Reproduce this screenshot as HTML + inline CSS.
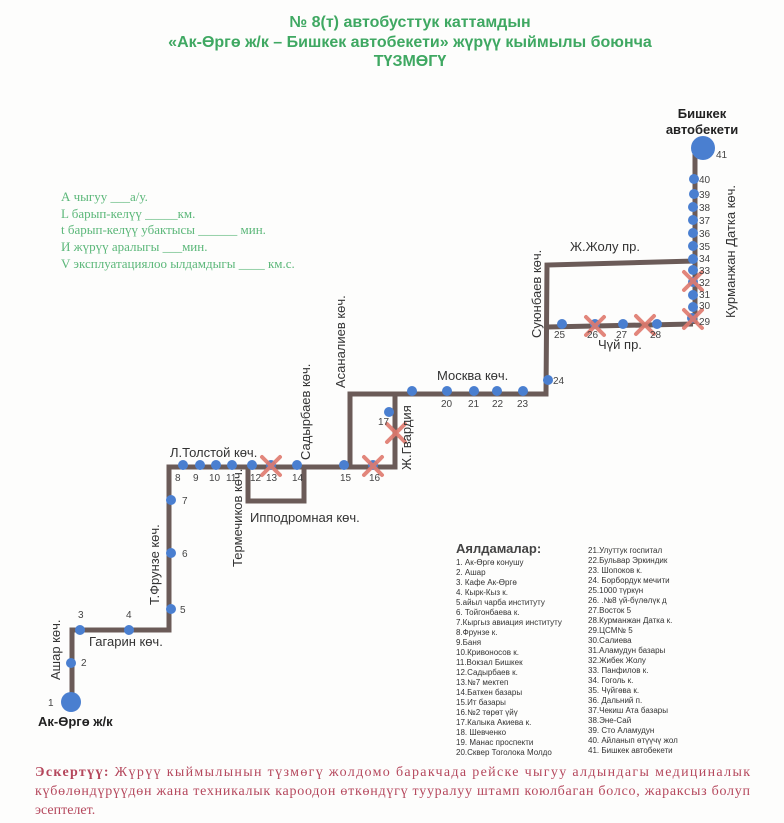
<!DOCTYPE html>
<html><head><meta charset="utf-8"><style>
html,body{margin:0;padding:0;background:#fdfdfc;}
svg{display:block;font-family:"Liberation Sans",sans-serif;}
.t{font-family:"Liberation Sans",sans-serif;font-weight:bold;fill:#3fa862;font-size:16px;}
.g{font-family:"Liberation Serif",serif;fill:#5bb779;font-size:13px;}
.n{font-size:10px;fill:#444;}
.s{font-size:13px;fill:#333;}
.l{font-size:8px;fill:#333;}
.r{font-family:"Liberation Serif",serif;fill:#b5485d;font-size:14px;}
</style></head><body>
<svg width="784" height="823" viewBox="0 0 784 823" xmlns="http://www.w3.org/2000/svg">
<text class="t" x="410" y="27" text-anchor="middle">№ 8(т) автобусттук каттамдын</text>
<text class="t" x="410" y="47" text-anchor="middle">«Ак-Өргө ж/к – Бишкек автобекети» жүрүү кыймылы боюнча</text>
<text class="t" x="410" y="66" text-anchor="middle">ТҮЗМӨГҮ</text>

<g class="g">
<text x="61" y="201">А чыгуу ___а/у.</text>
<text x="61" y="218">L барып-келүү  _____км.</text>
<text x="61" y="234">t барып-келүү убактысы  ______ мин.</text>
<text x="61" y="251">И жүрүү аралыгы ___мин.</text>
<text x="61" y="268">V эксплуатациялоо ылдамдыгы ____ км.с.</text>
</g>

<g fill="none" stroke="#6b5b58" stroke-width="5" stroke-linejoin="miter">
<polyline points="72,702 72,630 169,630 169,467 350,467"/>
<polyline points="248,467 248,501 304,501 304,467"/>
<polyline points="350,467 350,394 546,394 547,265 695,261"/>
<polyline points="350,467 395,467 395,394"/>
<polyline points="547,327 693,324"/>
<polyline points="695,150 695,324"/>
</g>

<g fill="#4a7fd0">
<circle cx="71" cy="702" r="10"/>
<circle cx="71" cy="663" r="5"/>
<circle cx="80" cy="630" r="5"/>
<circle cx="129" cy="630" r="5"/>
<circle cx="171" cy="609" r="5"/>
<circle cx="171" cy="553" r="5"/>
<circle cx="171" cy="500" r="5"/>
<circle cx="183" cy="465" r="5"/>
<circle cx="200" cy="465" r="5"/>
<circle cx="216" cy="465" r="5"/>
<circle cx="232" cy="465" r="5"/>
<circle cx="252" cy="465" r="5"/>
<circle cx="271" cy="465" r="5"/>
<circle cx="297" cy="465" r="5"/>
<circle cx="344" cy="465" r="5"/>
<circle cx="373" cy="465" r="5"/>
<circle cx="389" cy="412" r="5"/>
<circle cx="412" cy="391" r="5"/>
<circle cx="447" cy="391" r="5"/>
<circle cx="474" cy="391" r="5"/>
<circle cx="497" cy="391" r="5"/>
<circle cx="523" cy="391" r="5"/>
<circle cx="548" cy="380" r="5"/>
<circle cx="562" cy="324" r="5"/>
<circle cx="595" cy="324" r="5"/>
<circle cx="623" cy="324" r="5"/>
<circle cx="657" cy="324" r="5"/>
<circle cx="692" cy="318" r="5"/>
<circle cx="693" cy="307" r="5"/>
<circle cx="693" cy="295" r="5"/>
<circle cx="693" cy="282" r="5"/>
<circle cx="693" cy="270" r="5"/>
<circle cx="693" cy="259" r="5"/>
<circle cx="693" cy="246" r="5"/>
<circle cx="693" cy="233" r="5"/>
<circle cx="693" cy="220" r="5"/>
<circle cx="693" cy="207" r="5"/>
<circle cx="694" cy="194" r="5"/>
<circle cx="694" cy="179" r="5"/>
<circle cx="703" cy="148" r="12"/>
</g>

<g stroke="#e07a6e" stroke-width="4" stroke-linecap="round" opacity="0.9">
<path d="M262,457 L280,475 M280,457 L262,475"/>
<path d="M364,457 L382,475 M382,457 L364,475"/>
<path d="M387,424 L405,442 M405,424 L387,442"/>
<path d="M586,317 L604,335 M604,317 L586,335"/>
<path d="M636,316 L654,334 M654,316 L636,334"/>
<path d="M684,310 L702,328 M702,310 L684,328"/>
<path d="M684,272 L702,290 M702,272 L684,290"/>
</g>

<g class="n">
<text x="48" y="706">1</text><text x="81" y="666">2</text><text x="78" y="618">3</text>
<text x="126" y="618">4</text><text x="180" y="613">5</text><text x="182" y="557">6</text>
<text x="182" y="504">7</text><text x="175" y="481">8</text><text x="193" y="481">9</text>
<text x="209" y="481">10</text><text x="226" y="481">11</text><text x="250" y="481">12</text>
<text x="266" y="481">13</text><text x="292" y="481">14</text><text x="340" y="481">15</text>
<text x="369" y="481">16</text><text x="378" y="425">17</text>
<text x="441" y="407">20</text><text x="468" y="407">21</text><text x="492" y="407">22</text><text x="517" y="407">23</text>
<text x="553" y="384">24</text><text x="554" y="338">25</text><text x="587" y="338">26</text>
<text x="616" y="338">27</text><text x="650" y="338">28</text>
<text x="699" y="325">29</text><text x="699" y="309">30</text><text x="699" y="298">31</text>
<text x="699" y="286">32</text><text x="699" y="274">33</text><text x="699" y="262">34</text>
<text x="699" y="250">35</text><text x="699" y="237">36</text><text x="699" y="224">37</text>
<text x="699" y="211">38</text><text x="699" y="198">39</text><text x="699" y="183">40</text>
<text x="716" y="158">41</text>
</g>

<g class="s">
<text x="89" y="646">Гагарин көч.</text>
<text x="170" y="457">Л.Толстой көч.</text>
<text x="250" y="522">Ипподромная көч.</text>
<text x="437" y="380">Москва көч.</text>
<text x="570" y="251">Ж.Жолу пр.</text>
<text x="598" y="349">Чүй пр.</text>
<text transform="translate(60,680) rotate(-90)">Ашар көч.</text>
<text transform="translate(159,605) rotate(-90)">Т.Фрунзе көч.</text>
<text transform="translate(242,567) rotate(-90)">Термечиков көч.</text>
<text transform="translate(310,460) rotate(-90)">Садырбаев көч.</text>
<text transform="translate(345,388) rotate(-90)">Асаналиев көч.</text>
<text transform="translate(411,470) rotate(-90)">Ж.Гвардия</text>
<text transform="translate(541,338) rotate(-90)">Суюнбаев көч.</text>
<text transform="translate(735,318) rotate(-90)">Курманжан Датка көч.</text>
</g>
<text x="702" y="118" text-anchor="middle" style="font-weight:bold;font-size:13px;fill:#222">Бишкек</text>
<text x="702" y="134" text-anchor="middle" style="font-weight:bold;font-size:13px;fill:#222">автобекети</text>
<text x="38" y="726" style="font-weight:bold;font-size:13px;fill:#222">Ак-Өргө ж/к</text>

<text x="456" y="553" style="font-weight:bold;font-size:13px;fill:#444">Аялдамалар:</text>
<g class="l">
<text x="456" y="565">1. Ак-Өргө конушу</text>
<text x="456" y="575">2. Ашар</text>
<text x="456" y="585">3. Кафе Ак-Өргө</text>
<text x="456" y="595">4. Кырк-Кыз к.</text>
<text x="456" y="605">5.айыл чарба институту</text>
<text x="456" y="615">6. Тойгонбаева к.</text>
<text x="456" y="625">7.Кыргыз авиация институту</text>
<text x="456" y="635">8.Фрунзе к.</text>
<text x="456" y="645">9.Баня</text>
<text x="456" y="655">10.Кривоносов к.</text>
<text x="456" y="665">11.Вокзал Бишкек</text>
<text x="456" y="675">12.Садырбаев к.</text>
<text x="456" y="685">13.№7 мектеп</text>
<text x="456" y="695">14.Баткен базары</text>
<text x="456" y="705">15.Ит базары</text>
<text x="456" y="715">16.№2 төрөт үйү</text>
<text x="456" y="725">17.Калыка Акиева к.</text>
<text x="456" y="735">18. Шевченко</text>
<text x="456" y="745">19. Манас проспекти</text>
<text x="456" y="755">20.Сквер Тоголока Молдо</text>
<text x="588" y="553">21.Улуттук госпитал</text>
<text x="588" y="563">22.Бульвар Эркиндик</text>
<text x="588" y="573">23. Шопоков к.</text>
<text x="588" y="583">24. Борбордук мечити</text>
<text x="588" y="593">25.1000 түркүн</text>
<text x="588" y="603">26. .№8 үй-бүлөлүк д</text>
<text x="588" y="613">27.Восток 5</text>
<text x="588" y="623">28.Курманжан Датка к.</text>
<text x="588" y="633">29.ЦСМ№ 5</text>
<text x="588" y="643">30.Салиева</text>
<text x="588" y="653">31.Аламудун базары</text>
<text x="588" y="663">32.Жибек Жолу</text>
<text x="588" y="673">33. Панфилов к.</text>
<text x="588" y="683">34. Гоголь к.</text>
<text x="588" y="693">35. Чүйгөва к.</text>
<text x="588" y="703">36. Дальний п.</text>
<text x="588" y="713">37.Чекиш Ата базары</text>
<text x="588" y="723">38.Эне-Сай</text>
<text x="588" y="733">39. Сто Аламудун</text>
<text x="588" y="743">40. Айланып өтүүчү жол</text>
<text x="588" y="753">41. Бишкек автобекети</text>
</g>

<g class="r">
<text x="35" y="776" textLength="715" lengthAdjust="spacing"><tspan font-weight="bold">Эскертүү:</tspan> Жүрүү кыймылынын түзмөгү жолдомо баракчада рейске чыгуу алдындагы медициналык</text>
<text x="35" y="795" textLength="715" lengthAdjust="spacing">күбөлөндүрүүдөн жана техникалык кароодон өткөндүгү тууралуу штамп коюлбаган болсо, жараксыз болуп</text>
<text x="35" y="814">эсептелет.</text>
</g>
</svg>
</body></html>
